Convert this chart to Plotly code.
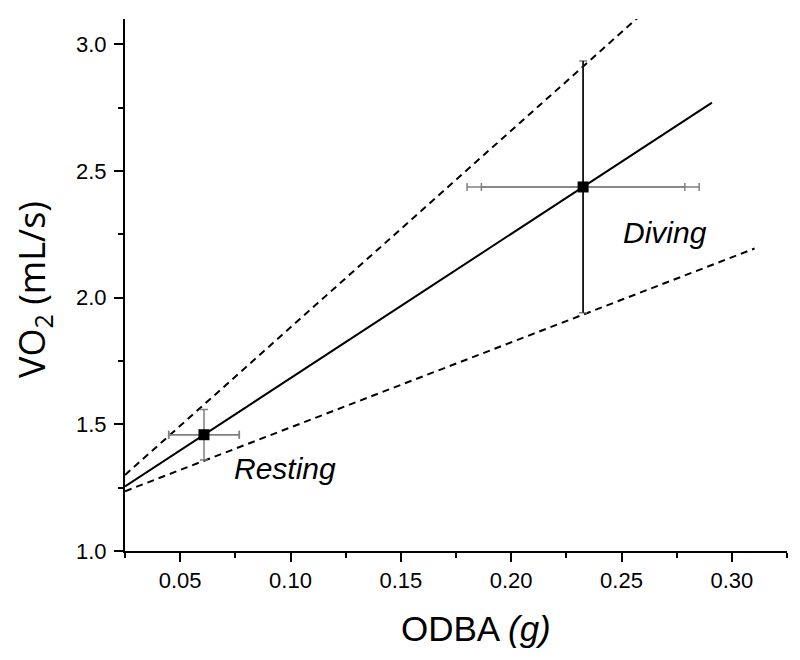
import plotly.graph_objects as go

# --- data ---
state = ["Resting", "Diving"]
odba = [0.0608, 0.2326]
vo2 = [1.459, 2.437]
vo2_err = [0.100, 0.497]
odba_err_outer = [0.0160, 0.0526]
odba_err_inner = [0.0160, 0.0461]

fit_x = [0.025, 0.291]
fit_y = [1.255, 2.770]
upper_x = [0.025, 0.2598]
upper_y = [1.300, 3.124]
lower_x = [0.025, 0.3103]
lower_y = [1.236, 2.194]

label_x = [0.0975, 0.2696]
label_y = [1.327, 2.258]

xticks = [0.05, 0.10, 0.15, 0.20, 0.25, 0.30]
yticks = [1.0, 1.5, 2.0, 2.5, 3.0]

FONT = "Liberation Sans, Arial, sans-serif"
GRAY = "#808080"

fig = go.Figure()

# confidence lines
fig.add_trace(go.Scatter(x=upper_x, y=upper_y, mode="lines",
                         line=dict(color="black", width=2, dash="7px,5px"),
                         hoverinfo="skip", showlegend=False))
fig.add_trace(go.Scatter(x=lower_x, y=lower_y, mode="lines",
                         line=dict(color="black", width=2, dash="7px,5px"),
                         hoverinfo="skip", showlegend=False))
# regression line
fig.add_trace(go.Scatter(x=fit_x, y=fit_y, mode="lines",
                         line=dict(color="black", width=2),
                         hoverinfo="skip", showlegend=False))

# inner horizontal error bars
fig.add_trace(go.Scatter(x=odba, y=vo2, mode="markers",
                         marker=dict(size=1, color="rgba(0,0,0,0)"),
                         error_x=dict(type="data", array=odba_err_inner, color=GRAY,
                                      thickness=1.5, width=4),
                         showlegend=False, hoverinfo="skip"))
# outer horizontal error bars
fig.add_trace(go.Scatter(x=odba, y=vo2, mode="markers",
                         marker=dict(size=1, color="rgba(0,0,0,0)"),
                         error_x=dict(type="data", array=odba_err_outer, color=GRAY,
                                      thickness=1.5, width=4),
                         showlegend=False, hoverinfo="skip"))
# vertical error bars with gray caps
fig.add_trace(go.Scatter(x=odba, y=vo2, mode="markers",
                         marker=dict(size=1, color="rgba(0,0,0,0)"),
                         error_y=dict(type="data", array=vo2_err, color=GRAY,
                                      thickness=1.5, width=4),
                         showlegend=False, hoverinfo="skip"))
# diving vertical bar drawn in black on top (no caps)
fig.add_trace(go.Scatter(x=odba[1:], y=vo2[1:], mode="markers",
                         marker=dict(size=1, color="rgba(0,0,0,0)"),
                         error_y=dict(type="data", array=vo2_err[1:], color="black",
                                      thickness=1.5, width=0),
                         showlegend=False, hoverinfo="skip"))
# means
fig.add_trace(go.Scatter(x=odba, y=vo2, mode="markers",
                         marker=dict(symbol="square", size=11, color="black"),
                         text=state, showlegend=False))

for s, lx, ly in zip(state, label_x, label_y):
    fig.add_annotation(x=lx, y=ly, text=f"<i>{s}</i>", showarrow=False,
                       font=dict(family=FONT, size=30, color="black"),
                       xanchor="center", yanchor="middle")

# axis titles (positions relative to the plot area: 125..787 x 19..551 px)
fig.add_annotation(xref="paper", yref="paper", x=(476 - 125) / 662, y=-(628 - 551) / 532,
                   text="ODBA <i>(g)</i>", showarrow=False,
                   font=dict(family=FONT, size=35, color="black"),
                   xanchor="center", yanchor="middle")
fig.add_annotation(xref="paper", yref="paper", x=-(125 - 33) / 662, y=(551 - 290) / 532,
                   text="VO<sub>2</sub> (mL/s)", showarrow=False, textangle=-90,
                   font=dict(family="Open Sans, sans-serif", size=36, color="black"),
                   xanchor="center", yanchor="middle")

# page body has an 8px margin, so plot margins are shifted to keep the plot area in place
fig.update_layout(
    width=800, height=660,
    margin=dict(l=117, r=21, t=11, b=117),
    paper_bgcolor="white", plot_bgcolor="white",
    font=dict(family=FONT, color="black"),
    showlegend=False,
)
fig.update_xaxes(range=[0.025, 0.325], tickvals=xticks, tickformat=".2f",
                 showgrid=False, zeroline=False, showline=True, linecolor="black",
                 linewidth=2, ticks="outside", ticklen=9, tickwidth=2, tickcolor="black",
                 tickfont=dict(family=FONT, size=22, color="black"),
                 minor=dict(dtick=0.025, tick0=0.025, ticks="outside", ticklen=5,
                            tickwidth=2, tickcolor="black", showgrid=False))
fig.update_yaxes(range=[1.0, 3.1], tickvals=yticks, tickformat=".1f",
                 showgrid=False, zeroline=False, showline=True, linecolor="black",
                 linewidth=2, ticks="outside", ticklen=9, tickwidth=2, tickcolor="black",
                 tickfont=dict(family=FONT, size=22, color="black"),
                 ticklabelstandoff=3,
                 minor=dict(dtick=0.25, tick0=1.0, ticks="outside", ticklen=5,
                            tickwidth=2, tickcolor="black", showgrid=False))

fig.write_html("out.html")
